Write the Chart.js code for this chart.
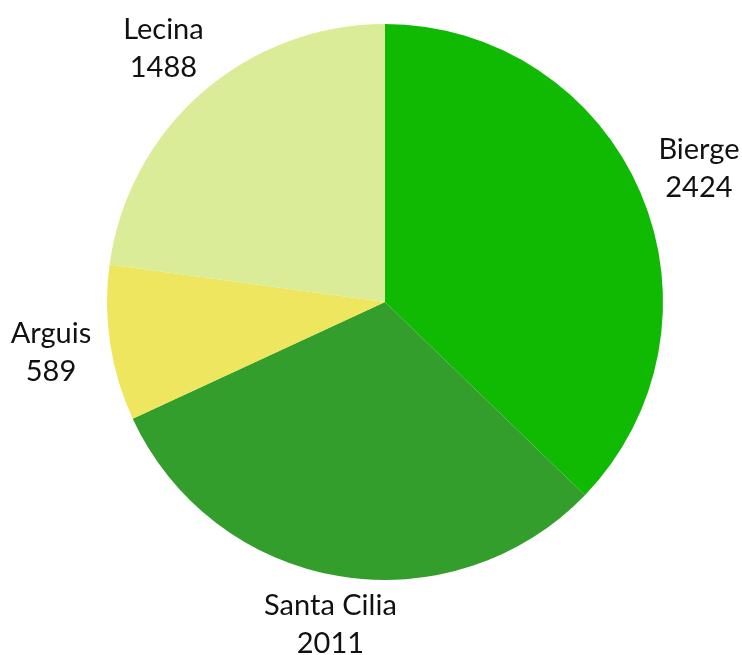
<!DOCTYPE html>
<html>
<head>
<meta charset="utf-8">
<script src="https://cdn.jsdelivr.net/npm/chart.js@4"></script>
<style>
html,body{margin:0;padding:0;background:#fff;}
#wrap{width:742px;height:655px;}
</style>
</head>
<body>
<div id="wrap"><canvas id="c" width="742" height="655"></canvas></div>
<script>
const categories = ["Bierge", "Santa Cilia", "Arguis", "Lecina"];
const values = [2424, 2011, 589, 1488];
const sliceColors = ["#10BA03", "#349E2C", "#EDE65E", "#DBEC99"];

const FONT_SIZE = 29;
const LINE_H = 38;
const GAP = 19;

const outsideLabels = {
  id: 'outsideLabels',
  afterDatasetsDraw(chart) {
    const ctx = chart.ctx;
    const meta = chart.getDatasetMeta(0);
    ctx.save();
    ctx.font = FONT_SIZE + 'px Lato';
    ctx.fillStyle = '#111';
    ctx.textAlign = 'center';
    ctx.textBaseline = 'middle';
    meta.data.forEach((arc, i) => {
      const p = arc.getProps(['x','y','startAngle','endAngle','outerRadius'], true);
      const mid = (p.startAngle + p.endAngle) / 2;
      const cx = Math.cos(mid), cy = Math.sin(mid);
      const lines = [categories[i], String(values[i])];
      const w = Math.max(...lines.map(l => ctx.measureText(l).width));
      const h = 60;
      const dx = Math.abs(cx) > 1e-6 ? (w / 2) / Math.abs(cx) : Infinity;
      const dy = Math.abs(cy) > 1e-6 ? (h / 2) / Math.abs(cy) : Infinity;
      const d = Math.min(dx, dy);
      const R = p.outerRadius + GAP + d;
      const lx = p.x + cx * R, ly = p.y + cy * R;
      lines.forEach((l, k) => {
        ctx.fillText(l, lx, ly + (k - (lines.length - 1) / 2) * LINE_H);
      });
    });
    ctx.restore();
  }
};

new Chart(document.getElementById('c'), {
  type: 'pie',
  data: {
    labels: categories,
    datasets: [{
      data: values,
      backgroundColor: sliceColors,
      borderWidth: 0,
      hoverOffset: 0,
      offset: 0
    }]
  },
  options: {
    responsive: false,
    animation: false,
    layout: { padding: { top: 24, bottom: 75, left: 107, right: 79 } },
    plugins: { legend: { display: false }, tooltip: { enabled: false } }
  },
  plugins: [outsideLabels]
});
</script>
</body>
</html>
